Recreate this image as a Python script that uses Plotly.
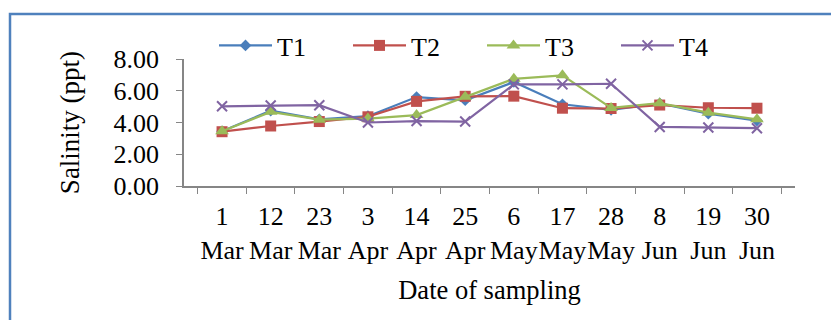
import plotly.graph_objects as go

days = ["1", "12", "23", "3", "14", "25", "6", "17", "28", "8", "19", "30"]
months = ["Mar", "Mar", "Mar", "Apr", "Apr", "Apr", "May", "May", "May", "Jun", "Jun", "Jun"]
categories = [f"{d}<br>{m}" for d, m in zip(days, months)]

t1 = [3.45, 4.75, 4.20, 4.40, 5.60, 5.40, 6.55, 5.15, 4.80, 5.20, 4.55, 4.12]
t2 = [3.42, 3.78, 4.06, 4.36, 5.33, 5.65, 5.66, 4.90, 4.88, 5.10, 4.93, 4.90]
t3 = [3.45, 4.67, 4.18, 4.25, 4.47, 5.62, 6.75, 6.97, 4.92, 5.22, 4.62, 4.20]
t4 = [5.02, 5.07, 5.09, 4.00, 4.09, 4.06, 6.40, 6.40, 6.44, 3.72, 3.68, 3.64]

series = [
    ("T1", t1, "#4A7EBB", "diamond", 9),
    ("T2", t2, "#C0504D", "square", 11),
    ("T3", t3, "#9BBB59", "triangle-up", 12),
    ("T4", t4, "#8064A2", "x-thin", 10),
]

FONT = "Liberation Serif, Times New Roman, serif"

fig = go.Figure()
for name, vals, color, sym, size in series:
    marker = dict(symbol=sym, size=size, color=color)
    if sym == "x-thin":
        marker["line"] = dict(color=color, width=2)
    fig.add_trace(go.Scatter(
        x=categories, y=vals, name=name, mode="lines+markers",
        line=dict(color=color, width=2.2), marker=marker,
    ))

W, H = 831, 320
L, R, T, B = 184, 36, 59, 134
pw, ph = W - L - R, H - T - B

fig.update_layout(
    width=W, height=H,
    margin=dict(l=L, r=R, t=T, b=B),
    paper_bgcolor="white", plot_bgcolor="white",
    font=dict(family=FONT, size=26, color="black"),
    showlegend=True,
    legend=dict(
        orientation="h", x=(214 - L) / pw, xanchor="left",
        y=(H - B - 45.5) / ph, yanchor="middle",
        entrywidth=66, font=dict(size=26, family=FONT),
        bgcolor="rgba(0,0,0,0)", itemwidth=53,
    ),
    xaxis=dict(
        type="category", showgrid=False, showline=True, linecolor="#868686", linewidth=1.5,
        ticks="outside", tickson="boundaries", ticklen=6, tickcolor="#868686",
        tickfont=dict(size=26, family=FONT), tickangle=0, ticklabelstandoff=6,
        title=dict(text="Date of sampling", font=dict(size=26.5, family=FONT), standoff=17),
        zeroline=False,
    ),
    yaxis=dict(
        range=[0, 8], tickvals=[0, 2, 4, 6, 8], ticktext=["0.00", "2.00", "4.00", "6.00", "8.00"],
        showgrid=False, showline=True, linecolor="#868686", linewidth=1.5,
        ticks="outside", ticklen=6, tickcolor="#868686",
        tickfont=dict(size=26, family=FONT), ticklabelstandoff=12,
        title=dict(text="Salinity (ppt)", font=dict(size=27, family=FONT), standoff=26),
        zeroline=False,
    ),
    shapes=[dict(
        type="rect", xref="paper", yref="paper",
        x0=(10 - L) / pw, x1=(W + 20 - L) / pw,
        y0=(H - B - (H + 20)) / ph, y1=(H - B - 14) / ph,
        line=dict(color="#4F81BD", width=2.5), fillcolor="rgba(0,0,0,0)", layer="below",
    )],
)

fig.write_html("out.html")
